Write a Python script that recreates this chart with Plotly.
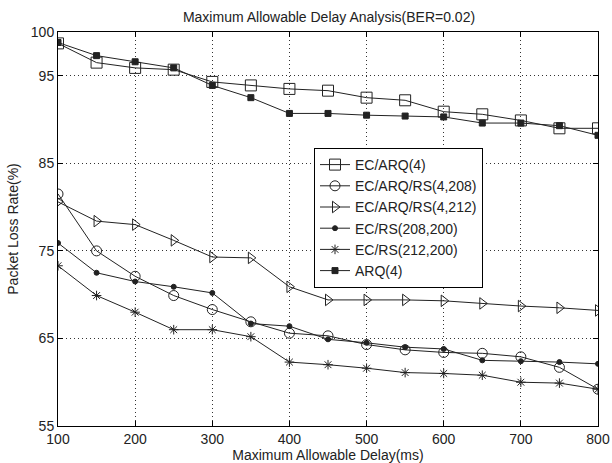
import plotly.graph_objects as go

delay = [100, 150, 200, 250, 300, 350, 400, 450, 500, 550, 600, 650, 700, 750, 800]

ec_arq4 = [98.7, 96.5, 95.9, 95.7, 94.3, 93.9, 93.5, 93.3, 92.5, 92.2, 90.9, 90.6, 89.9, 89.0, 89.0]
ec_arq_rs_4_208 = [81.5, 75.0, 72.1, 69.9, 68.3, 66.9, 65.6, 65.3, 64.3, 63.7, 63.4, 63.3, 62.9, 61.7, 59.2]
ec_arq_rs_4_212 = [80.6, 78.4, 78.0, 76.2, 74.3, 74.2, 70.9, 69.4, 69.4, 69.4, 69.3, 69.0, 68.7, 68.5, 68.2]
ec_rs_208_200 = [75.9, 72.5, 71.5, 70.9, 70.2, 66.7, 66.4, 64.9, 64.5, 64.0, 63.8, 62.5, 62.4, 62.3, 62.1]
ec_rs_212_200 = [73.3, 69.9, 68.0, 66.0, 66.0, 65.2, 62.3, 62.0, 61.6, 61.1, 61.0, 60.8, 60.0, 59.9, 59.2]
arq4 = [98.8, 97.3, 96.6, 95.9, 93.9, 92.5, 90.7, 90.7, 90.5, 90.4, 90.3, 89.6, 89.6, 89.3, 88.2]

series = [
    ("EC/ARQ(4)", ec_arq4, "square-open", 11),
    ("EC/ARQ/RS(4,208)", ec_arq_rs_4_208, "circle-open", 10),
    ("EC/ARQ/RS(4,212)", ec_arq_rs_4_212, "triangle-right-open", 10),
    ("EC/RS(208,200)", ec_rs_208_200, "circle", 5),
    ("EC/RS(212,200)", ec_rs_212_200, "asterisk-open", 8),
    ("ARQ(4)", arq4, "square", 6),
]

line_color = "#222222"
fig = go.Figure()
for name, vals, sym, sz in series:
    fig.add_trace(go.Scatter(
        x=delay, y=vals, name=name, mode="lines+markers",
        line=dict(color=line_color, width=1),
        marker=dict(symbol=sym, size=sz, color=line_color,
                    line=dict(color=line_color, width=1)),
    ))

font = "Liberation Sans, Arial, sans-serif"
axis_common = dict(
    showline=True, linecolor="black", linewidth=1, mirror="allticks",
    ticks="inside", ticklen=5, tickcolor="black",
    showgrid=True, gridcolor="#333333", griddash="1px,3px", gridwidth=1,
    zeroline=False, automargin=False, ticklabeloverflow="allow",
    tickfont=dict(family=font, size=14, color="#222"),
)

fig.update_layout(
    width=612, height=463,
    margin=dict(l=58, r=14, t=32, b=37),
    paper_bgcolor="white", plot_bgcolor="white",
    title=dict(text="Maximum Allowable Delay Analysis(BER=0.02)",
               x=329 / 612, xanchor="center",
               y=1 - 17.5 / 463, yanchor="middle",
               font=dict(family=font, size=14, color="#222")),
    xaxis=dict(range=[100, 800], tickvals=[100, 200, 300, 400, 500, 600, 700, 800],
               title=dict(text="Maximum Allowable Delay(ms)", standoff=1,
                          font=dict(family=font, size=14, color="#222")),
               **axis_common),
    yaxis=dict(range=[55, 100], tickvals=[55, 65, 75, 85, 95, 100],
               title=dict(text="Packet Loss Rate(%)", standoff=8,
                          font=dict(family=font, size=14, color="#222")),
               **axis_common),
    legend=dict(x=(314 - 58) / 540, y=(426 - 148) / 394, xanchor="left", yanchor="top",
                bgcolor="white", bordercolor="black", borderwidth=1,
                font=dict(family=font, size=14, color="#222"),
                tracegroupgap=0),
    showlegend=True,
)

fig.write_html("out.html")
